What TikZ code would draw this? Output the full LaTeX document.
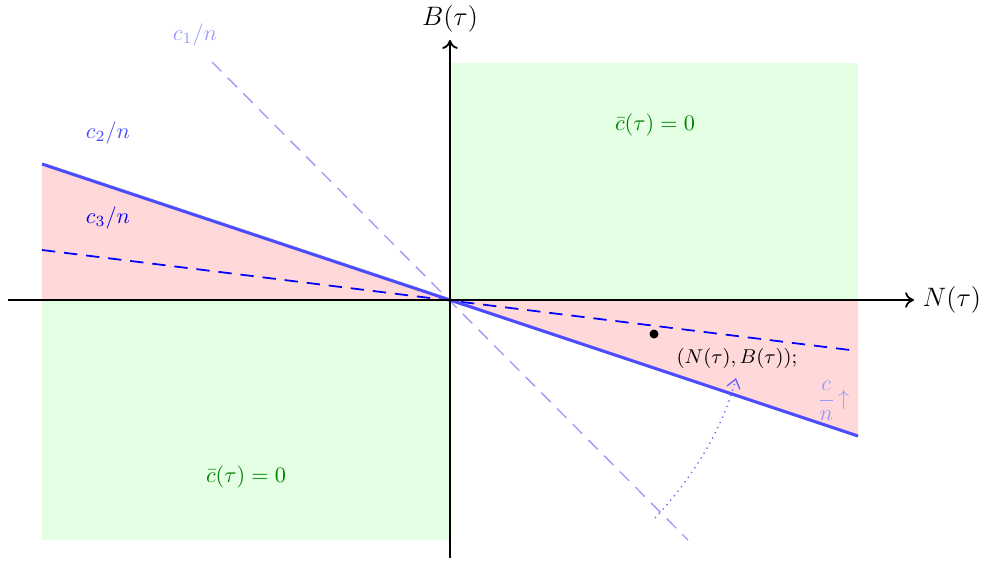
\documentclass[tikz,border=0pt]{standalone}
\usetikzlibrary{arrows.meta}
\begin{document}
\begin{tikzpicture}[x=0.45pt,y=-0.45pt,
  greenbox/.style={fill=green!10,draw=none},
  pinkbox/.style={fill=red!15,draw=none},
  axisline/.style={thick,-{To[length=4pt,width=7pt]}},
  mainline/.style={blue!70,line width=1.4pt},
  innerline/.style={blue,thick,dash pattern=on 6pt off 4pt},
  outerline/.style={blue!40,semithick,dash pattern=on 6pt off 4pt},
  zerolabel/.style={text=green!50!black},
  lab/.style={inner sep=1pt}]
\useasboundingbox (0,0) rectangle (982,561);
% shaded regions
\fill[greenbox] (450,63) rectangle (858,300);
\fill[greenbox] (42,300) rectangle (450,540);
\fill[pinkbox] (42,164) -- (450,300) -- (42,300) -- cycle;
\fill[pinkbox] (450,300) -- (858,300) -- (858,436) -- cycle;
% coordinates
\coordinate (O) at (450,300);
\coordinate (xl) at (8,300);
\coordinate (xr) at (914,300);
\coordinate (yb) at (450,558);
\coordinate (yt) at (450,40);
\coordinate (m1) at (42,164);
\coordinate (m2) at (858,436);
\coordinate (d1) at (42,250);
\coordinate (d2) at (858,351);
\coordinate (l1) at (212,62);
\coordinate (l2) at (688,540);
% lines
\draw[outerline] (l1) -- (l2);
\draw[innerline] (d1) -- (d2);
\draw[mainline] (m1) -- (m2);
% axes
\draw[axisline] (xl) -- (xr);
\draw[axisline] (yb) -- (yt);
\node[anchor=west,lab] (nlab) at (920,300) {\large$N(\tau)$};
\node[lab] (blab) at (450,19) {\large$B(\tau)$};
% labels
\node[text=blue!40,lab] (c1) at (195,35) {$c_1/n$};
\node[text=blue!70,lab] (c2) at (108,133) {$c_2/n$};
\node[text=blue,lab] (c3) at (108,218) {$c_3/n$};
\node[zerolabel] (z1) at (655,125) {$\bar c(\tau)=0$};
\node[zerolabel] (z2) at (246,477) {$\bar c(\tau)=0$};
% point
\fill (654,334) circle (4.5);
\node[lab] (pt) at (737,358) {\small$(N(\tau),B(\tau));$};
% arc
\draw[blue!60,dotted,semithick,-{Straight Barb[length=4pt,width=6pt]}]
  (655,518) .. controls (700,470) and (725,420) .. (736,378);
\node[text=blue!40,lab] (cn) at (833,401) {$\displaystyle\frac{c}{n}\!\uparrow$};
\end{tikzpicture}
\end{document}
